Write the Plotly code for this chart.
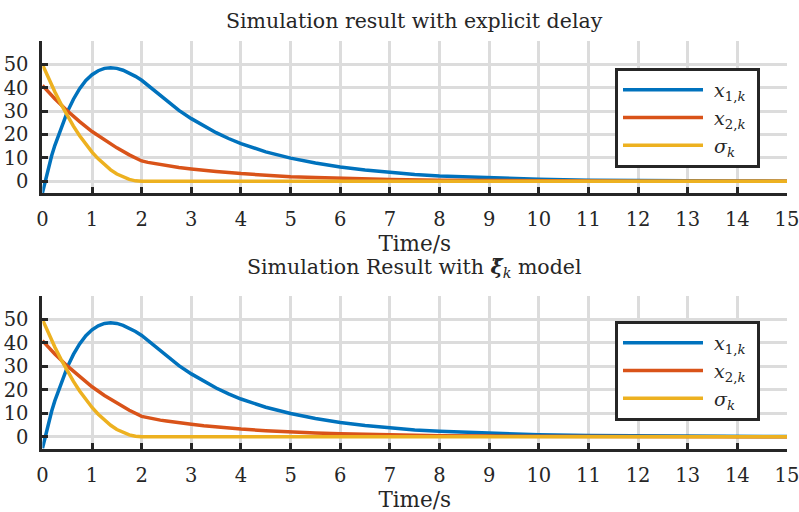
import plotly.graph_objects as go

# Sample times (s) and the three simulated signals
t_x1 = [0, 0.0625, 0.125, 0.1875, 0.25, 0.375, 0.5, 0.625, 0.75, 0.875, 1.0,
        1.125, 1.25, 1.375, 1.5, 1.625, 1.75, 1.875, 2.0, 2.125, 2.25, 2.375,
        2.5, 2.75, 3.0, 3.25, 3.5, 3.75, 4.0, 4.5, 5.0, 5.5, 6.0, 6.5, 7.0,
        7.5, 8.0, 9.0, 10.0, 11.0, 12.0, 13.0, 14.0, 15.0]
x1 = [-5.0, 0.8, 6.0, 11.0, 15.3, 23.0, 29.6, 35.1, 39.6, 43.1, 45.6, 47.3,
      48.3, 48.6, 48.3, 47.5, 46.3, 44.9, 43.2, 41.0, 38.8, 36.5, 34.3,
      30.3, 26.8, 23.6, 20.8, 18.3, 16.1, 12.6, 9.9, 7.8, 6.1, 4.8, 3.7,
      2.9, 2.3, 1.4, 0.85, 0.5, 0.3, 0.2, 0.12, 0.07]

t_x2 = [0, 0.25, 0.5, 0.75, 1.0, 1.25, 1.5, 1.75, 2.0, 2.125, 2.25, 2.375,
        2.5, 2.75, 3.0, 3.25, 3.5, 4.0, 4.5, 5.0, 5.5, 6.0, 7.0, 8.0, 9.0,
        10.0, 11.0, 12.0, 13.0, 14.0, 15.0]
x2 = [41.0, 35.3, 30.2, 25.5, 21.3, 17.6, 14.3, 11.3, 8.7, 8.1, 7.6, 7.1,
      6.7, 5.9, 5.3, 4.7, 4.2, 3.3, 2.6, 2.0, 1.6, 1.25, 0.75, 0.45, 0.28,
      0.17, 0.1, 0.06, 0.04, 0.02, 0.01]

t_sigma = [0, 0.125, 0.25, 0.375, 0.5, 0.625, 0.75, 0.875, 1.0, 1.125, 1.25,
           1.375, 1.5, 1.625, 1.75, 1.875, 2.0, 15.0]
sigma = [50.0, 44.0, 38.3, 33.0, 28.1, 23.6, 19.5, 15.8, 12.5, 9.6, 7.0,
         4.9, 3.1, 1.8, 0.8, 0.2, 0.0, 0.0]

x_ticks = list(range(0, 16))
y_ticks = [0, 10, 20, 30, 40, 50]

XI = "<b><i>ξ̃</i></b>"
titles = ["Simulation result with explicit delay",
          "Simulation Result with " + XI + "<sub><i>k</i></sub> model"]
LPAD = "\u00a0"
RPAD = "\u00a0"
names = [LPAD + "<i>x</i><sub>1,<i>k</i></sub>" + RPAD,
         LPAD + "<i>x</i><sub>2,<i>k</i></sub>" + RPAD,
         LPAD + "<i>σ</i><sub><i>k</i></sub>" + RPAD]
colors = ["#0072BD", "#D95319", "#EDB120"]

FONT = "DejaVu Serif"
AX = "#262626"
GRID = "#dcdcdc"

fig = go.Figure()
series = [(t_x1, x1), (t_x2, x2), (t_sigma, sigma)]
for xa, ya, leg in [("x", "y", "legend"), ("x2", "y2", "legend2")]:
    for (tt, vv), name, col in zip(series, names, colors):
        fig.add_trace(go.Scatter(
            x=tt, y=vv, mode="lines", name=name, xaxis=xa, yaxis=ya, legend=leg,
            line=dict(color=col, width=3.5)))

xdom = [42.4 / 799, 787 / 799]
ydoms = [[1 - 193 / 512, 1 - 41 / 512], [1 - 448.5 / 512, 1 - 296 / 512]]

def xaxis_cfg(anchor, dom):
    return dict(domain=dom, anchor=anchor, range=[0, 15], tickvals=x_ticks,
                automargin=False,
                ticks="inside", ticklen=6, tickwidth=3, tickcolor=AX,
                showline=True, linewidth=3, linecolor=AX,
                showgrid=True, gridcolor=GRID, gridwidth=3, zeroline=False,
                tickfont=dict(family=FONT, size=19.5, color=AX),
                ticklabelstandoff=7, ticklabeloverflow="allow",
                title=dict(text="Time/s", font=dict(family=FONT, size=21.5, color=AX),
                           standoff=3))

def yaxis_cfg(anchor, dom):
    return dict(domain=dom, anchor=anchor, range=[-5, 60], tickvals=y_ticks,
                automargin=False,
                ticks="inside", ticklen=6, tickwidth=3, tickcolor=AX,
                showline=True, linewidth=3, linecolor=AX,
                showgrid=True, gridcolor=GRID, gridwidth=3, zeroline=False,
                tickfont=dict(family=FONT, size=19.5, color=AX),
                ticklabelstandoff=7, ticklabeloverflow="allow")

legend_base = dict(bgcolor="white", bordercolor=AX, borderwidth=3,
                   font=dict(family=FONT, size=19, color=AX),
                   xanchor="left", yanchor="top", itemwidth=80,
                   tracegroupgap=0)

fig.update_layout(
    width=799, height=512, margin=dict(l=0, r=0, t=0, b=0, autoexpand=False),
    plot_bgcolor="white", paper_bgcolor="white",
    xaxis=xaxis_cfg("y", xdom), yaxis=yaxis_cfg("x", ydoms[0]),
    xaxis2=xaxis_cfg("y2", xdom), yaxis2=yaxis_cfg("x2", ydoms[1]),
    legend=dict(legend_base, x=615 / 799, y=1 - 68 / 512),
    legend2=dict(legend_base, x=615 / 799, y=1 - 321 / 512),
    showlegend=True,
    annotations=[
        dict(text=titles[0], x=0.519, y=1 - 21 / 512, xref="paper", yref="paper",
             yanchor="middle", showarrow=False,
             font=dict(family=FONT, size=20.5, color=AX)),
        dict(text=titles[1], x=0.519, y=1 - 268 / 512, xref="paper", yref="paper",
             yanchor="middle", showarrow=False,
             font=dict(family=FONT, size=20.5, color=AX)),
    ],
)

fig.write_html("out.html")
